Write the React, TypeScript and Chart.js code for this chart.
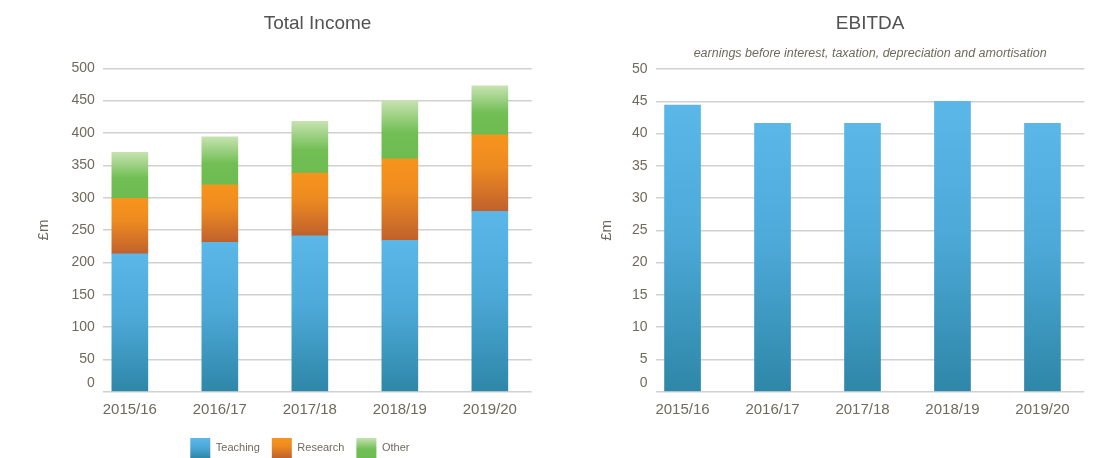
import React, { useEffect, useRef } from 'react';
import { Chart, registerables } from 'chart.js';

Chart.register(...registerables);

// ---------- data ----------
const categories = ['2015/16', '2016/17', '2017/18', '2018/19', '2019/20'];
const seriesNames = ['Teaching', 'Research', 'Other'];
const teaching = [213, 231, 241, 234, 279];
const research = [86, 89, 97, 126, 118];
const other = [71, 74, 80, 90, 76];
const ebitda = [44.4, 41.6, 41.6, 45.0, 41.6];
const incomeAxis = { min: 0, max: 500, step: 50 };
const ebitdaAxis = { min: 0, max: 50, step: 5 };
const incomeTitle = 'Total Income';
const ebitdaTitle = 'EBITDA';
const ebitdaSubtitle = 'earnings before interest, taxation, depreciation and amortisation';
const unitLabel = '£m';

// ---------- styles ----------
const FONT = '"Liberation Sans", Arial, sans-serif';
const TICK_COLOR = '#6f6a5c';
const TITLE_COLOR = '#525252';
const GRID_COLOR = '#d0d0d0';
const X_MIN = -0.295;
const X_MAX = 4.465;

type Stops = [number, string][];
const TEACH_STOPS: Stops = [[0, '#5ab7e8'], [0.45, '#4da9d8'], [1, '#2e87a8']];
const RESEARCH_STOPS: Stops = [[0, '#f7941d'], [0.4, '#ee8b20'], [1, '#c0612d']];
const OTHER_STOPS: Stops = [[0, '#c6e2b0'], [0.55, '#72bf55'], [1, '#6dbc50']];

function gradientColor(stack: number[][], idx: number, stops: Stops) {
  return (ctx: any) => {
    const chart = ctx.chart;
    const yScale = chart.scales && chart.scales.y;
    const solid = stops[Math.floor(stops.length / 2)][1];
    if (ctx.type !== 'data' || !yScale || !chart.chartArea) return solid;
    const i = ctx.dataIndex;
    let base = 0;
    for (let d = 0; d < idx; d++) base += stack[d][i];
    const top = base + stack[idx][i];
    const y0 = yScale.getPixelForValue(top);
    const y1 = yScale.getPixelForValue(base);
    if (!isFinite(y0) || !isFinite(y1) || y0 === y1) return solid;
    const g = chart.ctx.createLinearGradient(0, y0, 0, y1);
    stops.forEach(([o, c]) => g.addColorStop(o, c));
    return g;
  };
}

const legendStops: Stops[] = [TEACH_STOPS, RESEARCH_STOPS, OTHER_STOPS];
const legendGradientPlugin = {
  id: 'legendGradient',
  beforeDraw(chart: any) {
    const lg = chart.legend;
    if (!lg || !lg.legendItems) return;
    const lo = lg.options.labels;
    const top = lg.top + lo.padding;
    lg.legendItems.forEach((item: any, i: number) => {
      const stops = legendStops[i];
      if (!stops) return;
      const g = chart.ctx.createLinearGradient(0, top, 0, top + lo.boxHeight);
      stops.forEach(([o, c]) => g.addColorStop(o, c));
      item.fillStyle = g;
    });
  },
};

const xScale = (height: number) => ({
  type: 'linear' as const,
  min: X_MIN,
  max: X_MAX,
  offset: false,
  bounds: 'data' as const,
  grid: { display: false, drawTicks: false, offset: false },
  border: { display: false },
  afterBuildTicks: (axis: any) => {
    axis.ticks = categories.map((_, i) => ({ value: i }));
    axis.min = X_MIN;
    axis.max = X_MAX;
  },
  afterFit: (axis: any) => {
    axis.height = height;
  },
  ticks: {
    autoSkip: false,
    maxRotation: 0,
    padding: 9.3,
    color: TICK_COLOR,
    font: { family: FONT, size: 15 },
    callback: (v: any) => categories[Math.round(Number(v))] ?? '',
  },
});

const yScale = (axisCfg: { min: number; max: number; step: number }, width: number, titlePad: number) => ({
  min: axisCfg.min,
  max: axisCfg.max,
  stacked: true,
  grid: { color: GRID_COLOR, lineWidth: 1.5, drawTicks: false },
  border: { display: false },
  afterFit: (axis: any) => {
    axis.width = width;
  },
  title: {
    display: true,
    text: unitLabel,
    color: TICK_COLOR,
    font: { family: FONT, size: 15 },
    padding: { top: titlePad, bottom: 0 },
  },
  ticks: {
    stepSize: axisCfg.step,
    autoSkip: false,
    padding: 8.5,
    color: TICK_COLOR,
    font: { family: FONT, size: 14 },
    callback: (v: any) => (Number(v) === 0 ? ['0', ''] : String(v)),
  },
});

function IncomeChart() {
  const ref = useRef<HTMLCanvasElement>(null);
  useEffect(() => {
    if (!ref.current) return;
    const stack = [teaching, research, other];
    const stopsList = [TEACH_STOPS, RESEARCH_STOPS, OTHER_STOPS];
    const chart = new Chart(ref.current, {
      type: 'bar',
      data: {
        datasets: stack.map((values, d) => ({
          label: seriesNames[d],
          data: values.map((y, i) => ({ x: i, y })),
          stack: 'income',
          backgroundColor: gradientColor(stack, d, stopsList[d]),
          borderWidth: 0,
          barThickness: 36,
        })),
      },
      options: {
        responsive: false,
        animation: false,
        devicePixelRatio: 1,
        layout: { padding: { left: 68, right: 18.3, top: 0, bottom: 0 } },
        scales: {
          x: xScale(34.3),
          y: yScale(incomeAxis, 35.3, -33.3),
        },
        plugins: {
          title: {
            display: true,
            text: incomeTitle,
            color: TITLE_COLOR,
            fullSize: false,
            font: { family: FONT, size: 19, weight: 'normal' },
            padding: { top: 11.9, bottom: 33.6 },
          },
          legend: {
            display: true,
            position: 'bottom',
            fullSize: true,
            labels: {
              boxWidth: 20,
              boxHeight: 20,
              padding: 12,
              color: TICK_COLOR,
              font: { family: FONT, size: 11 },
            },
          },
          tooltip: { enabled: false },
        },
      } as any,
      plugins: [legendGradientPlugin],
    });
    return () => chart.destroy();
  }, []);
  return <canvas ref={ref} width={550} height={468} style={{ position: 'absolute', left: 0, top: 0 }} />;
}

function EbitdaChart() {
  const ref = useRef<HTMLCanvasElement>(null);
  useEffect(() => {
    if (!ref.current) return;
    const stack = [ebitda];
    const chart = new Chart(ref.current, {
      type: 'bar',
      data: {
        datasets: [
          {
            label: ebitdaTitle,
            data: ebitda.map((y, i) => ({ x: i, y })),
            stack: 'ebitda',
            backgroundColor: gradientColor(stack, 0, TEACH_STOPS),
            borderWidth: 0,
            barThickness: 36,
          },
        ],
      },
      options: {
        responsive: false,
        animation: false,
        devicePixelRatio: 1,
        layout: { padding: { left: 0, right: 15.7, top: 0, bottom: 0 } },
        scales: {
          x: xScale(66.3),
          y: yScale(ebitdaAxis, 106, 47.5),
        },
        plugins: {
          title: {
            display: true,
            text: ebitdaTitle,
            color: TITLE_COLOR,
            fullSize: false,
            font: { family: FONT, size: 19, weight: 'normal' },
            padding: { top: 11.9, bottom: 0 },
          },
          subtitle: {
            display: true,
            text: ebitdaSubtitle,
            color: TICK_COLOR,
            fullSize: false,
            font: { family: FONT, size: 12.5, style: 'italic', weight: 'normal' },
            padding: { top: 11.8, bottom: 7.5 },
          },
          legend: { display: false },
          tooltip: { enabled: false },
        },
      } as any,
    });
    return () => chart.destroy();
  }, []);
  return <canvas ref={ref} width={550} height={458} style={{ position: 'absolute', left: 550, top: 0 }} />;
}

export default function App() {
  return (
    <div
      style={{
        position: 'fixed',
        left: 0,
        top: 0,
        width: 1100,
        height: 458,
        overflow: 'hidden',
        background: '#ffffff',
      }}
    >
      <IncomeChart />
      <EbitdaChart />
    </div>
  );
}
